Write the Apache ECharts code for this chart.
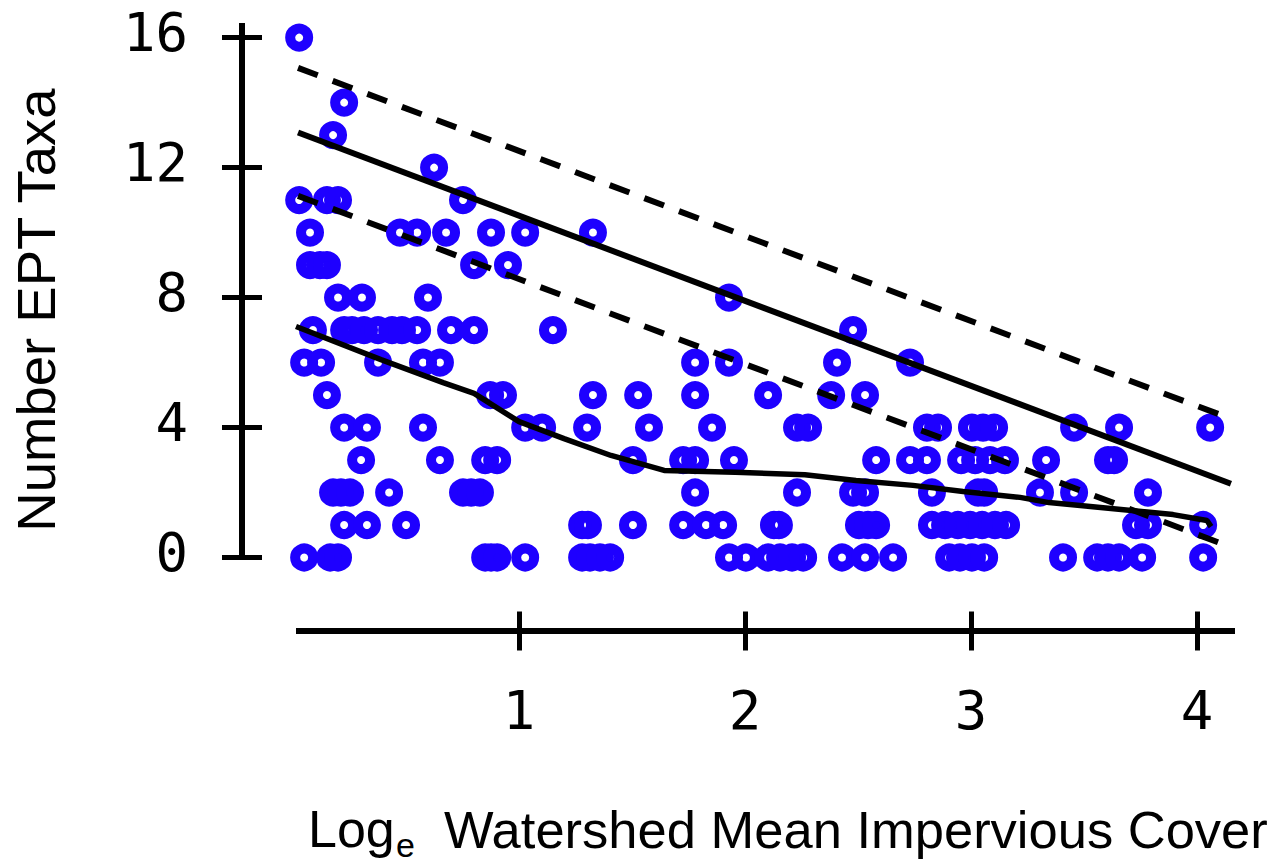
<!DOCTYPE html>
<html>
<head>
<meta charset="utf-8">
<style>
  html, body { margin: 0; padding: 0; background: #fff; }
  #chart { width: 1277px; height: 863px; }
</style>
<script src="https://cdn.jsdelivr.net/npm/echarts@6/dist/echarts.min.js"></script>
</head>
<body>
<div id="chart"></div>
<script>
// ---- data ----
// [Log_e watershed mean impervious cover, number of EPT taxa]
const sites = [
  [0.027, 16],
  [0.226, 14],
  [0.177, 13],
  [0.624, 12],
  [0.027, 11], [0.150, 11], [0.199, 11], [0.752, 11],
  [0.075, 10], [0.473, 10], [0.549, 10], [0.677, 10], [0.876, 10], [1.027, 10], [1.327, 10],
  [0.075, 9], [0.119, 9], [0.150, 9], [0.801, 9], [0.951, 9],
  [0.199, 8], [0.305, 8], [0.597, 8], [1.929, 8],
  [0.088, 7], [0.226, 7], [0.261, 7], [0.314, 7], [0.376, 7], [0.438, 7], [0.482, 7], [0.549, 7],
  [0.699, 7], [0.801, 7], [1.150, 7], [2.478, 7],
  [0.049, 6], [0.124, 6], [0.376, 6], [0.575, 6], [0.650, 6], [1.779, 6], [1.929, 6], [2.407, 6], [2.730, 6],
  [0.150, 5], [0.872, 5], [0.929, 5], [1.327, 5], [1.527, 5], [1.779, 5], [2.102, 5], [2.381, 5], [2.531, 5],
  [0.226, 4], [0.327, 4], [0.575, 4], [1.027, 4], [1.102, 4], [1.301, 4], [1.575, 4], [1.854, 4], [2.230, 4],
  [2.279, 4], [2.805, 4], [2.854, 4], [3.004, 4], [3.053, 4], [3.102, 4], [3.456, 4], [3.655, 4], [4.058, 4],
  [0.301, 3], [0.650, 3], [0.850, 3], [0.903, 3], [1.504, 3], [1.726, 3], [1.779, 3], [1.951, 3], [2.580, 3],
  [2.730, 3], [2.805, 3], [2.956, 3], [3.018, 3], [3.084, 3], [3.150, 3], [3.332, 3], [3.606, 3], [3.633, 3],
  [0.177, 2], [0.212, 2], [0.252, 2], [0.425, 2], [0.752, 2], [0.788, 2], [0.827, 2], [1.779, 2], [2.230, 2],
  [2.478, 2], [2.531, 2], [2.827, 2], [3.031, 2], [3.058, 2], [3.305, 2], [3.456, 2], [3.783, 2],
  [0.226, 1], [0.327, 1], [0.500, 1], [1.279, 1], [1.305, 1], [1.504, 1], [1.726, 1], [1.827, 1], [1.903, 1],
  [2.128, 1], [2.150, 1], [2.504, 1], [2.544, 1], [2.580, 1], [2.827, 1], [2.885, 1], [2.942, 1], [2.996, 1],
  [3.049, 1], [3.106, 1], [3.155, 1], [3.730, 1], [3.783, 1], [4.027, 1],
  [0.049, 0], [0.164, 0], [0.199, 0], [0.850, 0], [0.876, 0], [0.903, 0], [1.027, 0], [1.279, 0], [1.314, 0],
  [1.358, 0], [1.403, 0], [1.929, 0], [2.004, 0], [2.102, 0], [2.155, 0], [2.208, 0], [2.257, 0], [2.429, 0],
  [2.531, 0], [2.655, 0], [2.903, 0], [2.951, 0], [3.004, 0], [3.058, 0], [3.407, 0], [3.558, 0], [3.606, 0],
  [3.655, 0], [3.757, 0], [4.027, 0]
];

// regression line and its prediction band
const fitX   = [0.022, 4.150];
const fitY   = [13.08, 2.27];
const upperY = [15.07, 4.27];
const lowerY = [11.13, 0.32];

// smooth (lowess-like) curve
const smoothX = [0.013, 0.389, 0.664, 0.801, 1.000, 1.199, 1.407, 1.642, 1.956, 2.265, 2.491, 2.743, 2.965, 3.217, 3.345, 3.619, 3.894, 4.044, 4.062];
const smoothY = [7.11, 6.09, 5.38, 5.05, 4.18, 3.66, 3.14, 2.68, 2.62, 2.55, 2.37, 2.22, 2.03, 1.85, 1.69, 1.51, 1.32, 1.14, 0.95];

// ticks
const yTicks = [0, 4, 8, 12, 16];
const xTicks = [1, 2, 3, 4];

const xTitleMain = 'Watershed Mean Impervious Cover';
const yTitle = 'Number EPT Taxa';

// ---- chart ----
const chart = echarts.init(document.getElementById('chart'), null, { renderer: 'svg' });

const pair = (xs, ys) => xs.map((x, i) => [x, ys[i]]);
const tickFont = { fontFamily: 'DejaVu Sans Mono', fontSize: 54, color: '#000' };
const axisCommon = {
  type: 'value',
  splitLine: { show: false },
  axisPointer: { show: false }
};

chart.setOption({
  animation: false,
  backgroundColor: '#fff',
  grid: { left: 296, right: 42, top: 23, bottom: 305.5, containLabel: false, outerBoundsMode: 'none' },
  xAxis: [
    Object.assign({}, axisCommon, {
      min: 0.013, max: 4.168, position: 'bottom', offset: 73,
      axisLine: { show: true, onZero: false, lineStyle: { color: '#000', width: 6, cap: 'butt' } },
      axisTick: { show: true, inside: false, length: 20, customValues: xTicks, lineStyle: { color: '#000', width: 5 } },
      axisLabel: Object.assign({ show: true, margin: 53, customValues: xTicks }, tickFont)
    }),
    Object.assign({}, axisCommon, {
      min: 0.013, max: 4.168, position: 'bottom', offset: 73,
      axisLine: { show: false, onZero: false },
      axisTick: { show: true, inside: true, length: 19, customValues: xTicks, lineStyle: { color: '#000', width: 5 } },
      axisLabel: { show: false }
    })
  ],
  yAxis: [
    Object.assign({}, axisCommon, {
      min: 0, max: 16.45, position: 'left', offset: 54,
      axisLine: { show: true, onZero: false, lineStyle: { color: '#000', width: 6, cap: 'butt' } },
      axisTick: { show: true, inside: false, length: 20, customValues: yTicks, lineStyle: { color: '#000', width: 5 } },
      axisLabel: Object.assign({ show: true, margin: 54, customValues: yTicks, verticalAlign: 'bottom', lineHeight: 10 }, tickFont)
    }),
    Object.assign({}, axisCommon, {
      min: 0, max: 16.45, position: 'left', offset: 54,
      axisLine: { show: false, onZero: false },
      axisTick: { show: true, inside: true, length: 20, customValues: yTicks, lineStyle: { color: '#000', width: 5 } },
      axisLabel: { show: false }
    })
  ],
  graphic: [
    { type: 'text', x: 36, y: 310, rotation: Math.PI / 2,
      style: { text: yTitle, fontFamily: 'Liberation Sans', fontSize: 54.5, fill: '#000', align: 'center', verticalAlign: 'middle' } },
    { type: 'text', x: 308, y: 829,
      style: { text: 'Log', fontFamily: 'Liberation Sans', fontSize: 52, fill: '#000', align: 'left', verticalAlign: 'middle' } },
    { type: 'text', x: 396, y: 845,
      style: { text: 'e', fontFamily: 'Liberation Sans', fontSize: 34, lineHeight: 24, fill: '#000', align: 'left', verticalAlign: 'middle' } },
    { type: 'text', x: 444, y: 829,
      style: { text: xTitleMain, fontFamily: 'Liberation Sans', fontSize: 52.5, fill: '#000', align: 'left', verticalAlign: 'middle' } }
  ],
  series: [
    {
      type: 'scatter', xAxisIndex: 0, yAxisIndex: 0, clip: false, silent: true,
      symbol: 'circle', symbolSize: 18,
      itemStyle: { color: 'rgba(0,0,0,0)', borderColor: '#1e00ff', borderWidth: 10, opacity: 1 },
      data: sites
    },
    {
      type: 'line', xAxisIndex: 0, yAxisIndex: 0, clip: false, silent: true, showSymbol: false, symbol: 'none',
      lineStyle: { color: '#000', width: 5.5 },
      data: pair(smoothX, smoothY)
    },
    {
      type: 'line', xAxisIndex: 0, yAxisIndex: 0, clip: false, silent: true, showSymbol: false, symbol: 'none',
      lineStyle: { color: '#000', width: 6, cap: 'butt' },
      data: pair(fitX, fitY)
    },
    {
      type: 'line', xAxisIndex: 0, yAxisIndex: 0, clip: false, silent: true, showSymbol: false, symbol: 'none',
      lineStyle: { color: '#000', width: 6, type: [21, 16], cap: 'butt' },
      data: pair(fitX, upperY)
    },
    {
      type: 'line', xAxisIndex: 0, yAxisIndex: 0, clip: false, silent: true, showSymbol: false, symbol: 'none',
      lineStyle: { color: '#000', width: 6, type: [21, 16], cap: 'butt' },
      data: pair(fitX, lowerY)
    }
  ]
});
</script>
</body>
</html>
